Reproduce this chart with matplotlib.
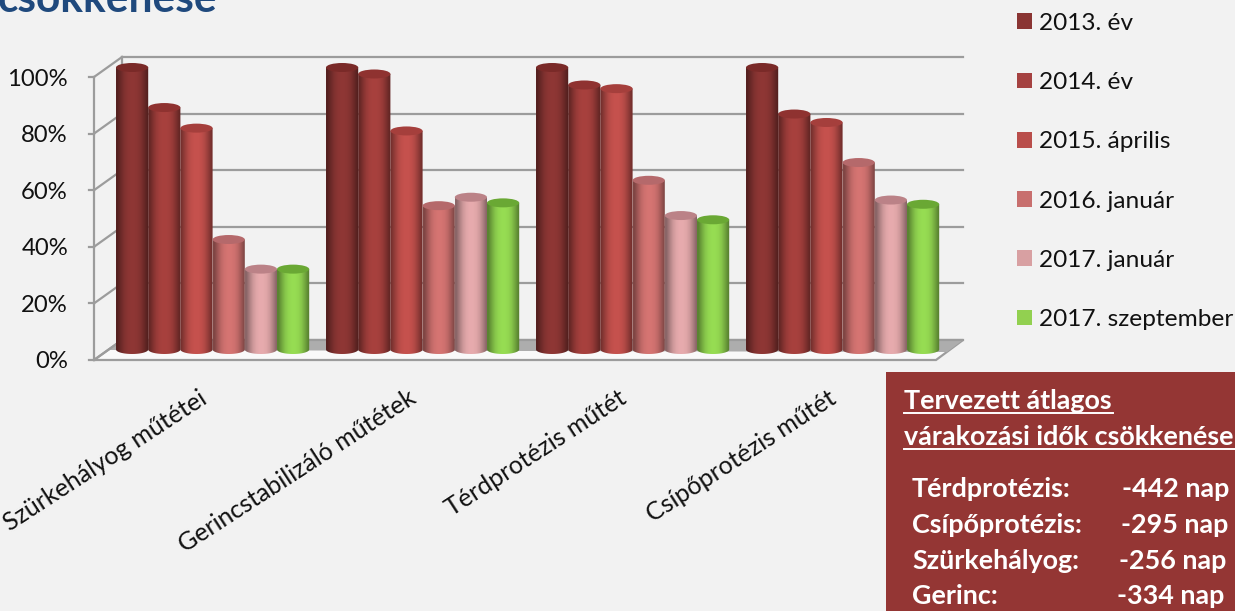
import numpy as np
import matplotlib
matplotlib.use("Agg")
from matplotlib import pyplot as plt
from matplotlib.patches import Ellipse, Patch, Polygon, Rectangle

categories = ["Szürkehályog műtétei", "Gerincstabilizáló műtétek", "Térdprotézis műtét", "Csípőprotézis műtét"]
series_names = ["2013. év", "2014. év", "2015. április", "2016. január", "2017. január", "2017. szeptember"]
series_values = [
    [100, 100, 100, 100],
    [85.8, 97.7, 93.8, 83.5],
    [78.5, 77.5, 92.5, 80.5],
    [39, 51, 60, 66.3],
    [28.5, 54, 47.5, 53],
    [28.5, 52, 46, 51.5],
]
body_colors = ["#8a3533", "#a33f3c", "#c04f4b", "#cf716f", "#e0a6a8", "#92d650"]
top_colors = ["#7a2a28", "#8f3230", "#a53f3c", "#b5696b", "#bb8287", "#6aa834"]
legend_colors = ["#8a3533", "#a54241", "#b94e4b", "#c86f6e", "#d8a0a2", "#92d050"]
y_ticks = [0, 20, 40, 60, 80, 100]
wait_rows = [("Térdprotézis:", "-442 nap", 1122, 497), ("Csípőprotézis:", "-295 nap", 1121, 533),
             ("Szürkehályog:", "-256 nap", 1119, 569), ("Gerinc:", "-334 nap", 1117, 604)]

W, H = 1235, 611
BG = "#f2f2f2"
GRID = "#9c9c9c"
plt.rcParams["font.family"] = ["Lato", "DejaVu Sans"]

fig = plt.figure(figsize=(W / 100, H / 100), dpi=100, facecolor=BG)

# pixel axes for the frame and the text
deco = fig.add_axes([0, 0, 1, 1])
deco.set_xlim(0, W)
deco.set_ylim(H, 0)
deco.axis("off")

# bar axes, 1 unit on x = 210 px, 1 % = 2.82 px
ax = fig.add_axes([0, 0, 1, 1], facecolor="none")
x0_px, y0_px, group_px, y_px = 212.6, 349.5, 210.0, 2.82
ax.axis("off")

# back wall, floor and grid
deco.add_patch(Polygon([(94, 360), (122, 340), (963, 340), (936, 360)], fc="#f9f9f9", ec=GRID, lw=1.6))
deco.add_patch(Polygon([(108, 350), (122, 340), (963, 340), (947, 352)], fc="#adadad", ec="none"))
deco.plot([94, 94], [77, 360], color=GRID, lw=1.6)
deco.plot([122, 122], [57, 340], color=GRID, lw=1.6)
for t in y_ticks:
    yf = 360 - t * 2.83
    yb = 340 - t * 2.83
    deco.plot([94, 122], [yf, yb], color=GRID, lw=1.6)
    deco.plot([122, 963], [yb, yb], color=GRID, lw=1.6)
    deco.plot([89, 94], [yf, yf], color=GRID, lw=1.6)
    deco.text(68, yf + 2, f"{t}%", ha="right", va="center", fontsize=17.2, color="#111111")

# cylinders
bar_w = 32.2 / group_px
shade = np.array([0.62, 0.78, 0.92, 1.0, 1.03, 1.03, 1.0, 0.92, 0.78, 0.62])
ell_h = 9 / y_px
tt = np.linspace(np.pi, 2 * np.pi, 30)
for i, vals in enumerate(series_values):
    base = np.array(matplotlib.colors.to_rgb(body_colors[i]))
    grad = np.clip(np.outer(shade, base), 0, 1)[None, :, :]
    for g, v in enumerate(vals):
        left = g + (i - 2.5) * bar_w - bar_w / 2
        cx = left + bar_w / 2
        z = 2 + i * 0.01
        im = ax.imshow(grad, extent=[left, left + bar_w, -ell_h / 2, v], aspect="auto",
                       interpolation="bilinear", zorder=z)
        # clip gradient to the body plus the rounded base
        verts = [(left, v)]
        verts += [(cx + bar_w / 2 * np.cos(a), ell_h / 2 * np.sin(a)) for a in tt]
        verts += [(left + bar_w, v)]
        clip = Polygon(verts, transform=ax.transData, fc="none", ec="none")
        ax.add_patch(clip)
        im.set_clip_path(clip)
        ax.add_patch(Ellipse((cx, v), bar_w, ell_h, fc=top_colors[i], ec="none", zorder=z + 0.001))
ax.set_xlim(-x0_px / group_px, (W - x0_px) / group_px)
ax.set_ylim(-(H - y0_px) / y_px, y0_px / y_px)

# category labels
for g, name in enumerate(categories):
    ax.text(g - 0.07, -13, name, rotation=33, rotation_mode="anchor", ha="right", va="top",
            fontsize=18, color="#111111")

# legend
handles = [Patch(fc=c, ec="none") for c in legend_colors]
fig.legend(handles, series_names, loc="upper left", bbox_to_anchor=(1007.2 / W, 1 - 3 / H), frameon=False,
           fontsize=17.6, labelspacing=1.566, handlelength=0.614, handleheight=0.614, handletextpad=0.29,
           labelcolor="#111111", borderpad=0.4, borderaxespad=0)

# title cut off by the top edge
deco.text(-2, 12, "csökkenése", fontsize=30.5, fontweight="bold", color="#1f497d", va="baseline", ha="left")

# waiting time box
deco.add_patch(Rectangle((886, 372), 349, 239, fc="#943634", ec="none"))
deco.text(904, 409, "Tervezett átlagos", fontsize=19.4, fontweight="bold", color="white")
deco.text(904, 445, "várakozási idők csökkenése", fontsize=19.4, fontweight="bold", color="white")
deco.plot([904, 1113], [412.5, 412.5], color="white", lw=1.4)
deco.plot([904, 1235], [449, 449], color="white", lw=1.4)
for name, val, xv, yy in wait_rows:
    deco.text(912, yy, name, fontsize=19.4, fontweight="bold", color="white")
    deco.text(xv, yy, val, fontsize=19.4, fontweight="bold", color="white")

fig.savefig("out.png", dpi=100, facecolor=BG)
